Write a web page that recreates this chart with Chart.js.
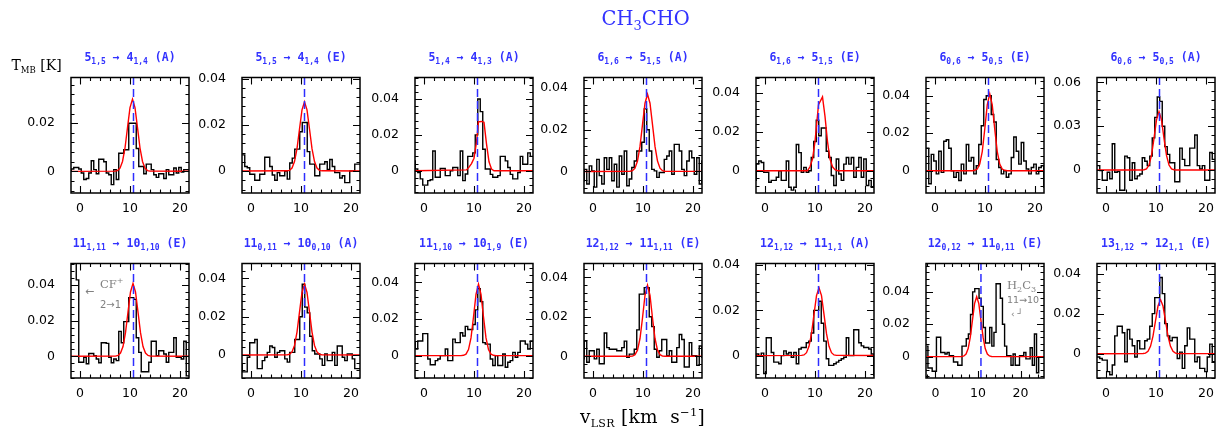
<!DOCTYPE html>
<html>
<head>
<meta charset="utf-8">
<script src="https://cdn.jsdelivr.net/npm/chart.js@4.4.1/dist/chart.umd.min.js"></script>
<style>
html,body{margin:0;padding:0;background:#fff;}
#root{position:relative;width:1228px;height:438px;overflow:hidden;background:#fff;}
canvas{position:absolute;}
.txt{position:absolute;white-space:nowrap;line-height:1;}
.ptitle{font-family:"DejaVu Sans Mono";font-weight:bold;font-size:11.5px;color:rgb(50,50,255);transform:translateX(-50%);}
.sb{font-size:8px;position:relative;top:3.5px;}
.serif{font-family:"DejaVu Serif";}
.grey{color:rgb(128,128,128);}
</style>
</head>
<body>
<div id="root"></div>
<script>
// ---------------- DATA ----------------
const transitions = [
  '5_{1,5} → 4_{1,4} (A)', '5_{1,5} → 4_{1,4} (E)', '5_{1,4} → 4_{1,3} (A)', '6_{1,6} → 5_{1,5} (A)',
  '6_{1,6} → 5_{1,5} (E)', '6_{0,6} → 5_{0,5} (E)', '6_{0,6} → 5_{0,5} (A)',
  '11_{1,11} → 10_{1,10} (E)', '11_{0,11} → 10_{0,10} (A)', '11_{1,10} → 10_{1,9} (E)', '12_{1,12} → 11_{1,11} (E)',
  '12_{1,12} → 11_{1,1} (A)', '12_{0,12} → 11_{0,11} (E)', '13_{1,12} → 12_{1,1} (E)'
];
const VLSR = 10.7;
const velocity = [-2,-1.5,-1,-0.5,0,0.5,1,1.5,2,2.5,3,3.5,4,4.5,5,5.5,6,6.5,7,7.5,8,8.5,9,9.5,10,10.5,11,11.5,12,12.5,13,13.5,14,14.5,15,15.5,16,16.5,17,17.5,18,18.5,19,19.5,20,20.5,21,21.5,22,22.5,23,23.5,24,24.5,25,25.5];
const xMin = [-1.8,-1.8,-1.8,-1.8,-1.8,-1.8,-1.8,-1.8,-1.8,-1.8,-1.8,-1.8,-2.2,-1.8];
const xMax = [21.8,21.8,21.8,21.8,21.8,21.8,21.8,21.8,21.8,21.8,21.8,21.8,25.5,21.8];
const xTickLabels = [0, 10, 20];
const yMin = [-0.009,-0.0095,-0.0124,-0.0103,-0.0115,-0.0119,-0.0157,-0.0122,-0.012,-0.0122,-0.011,-0.0099,-0.0132,-0.0121];
const yMax = [0.039,0.0405,0.052,0.045,0.048,0.0497,0.0633,0.0522,0.0478,0.0503,0.047,0.0407,0.0575,0.045];
const yTickStep = [0.02,0.02,0.02,0.02,0.02,0.02,0.03,0.02,0.02,0.02,0.02,0.02,0.02,0.02];

const spec01 = [0.000,0.001,0.0016,0.0016,0.001,-0.0007,-0.0034,-0.003,-0.0007,0.0044,0.0007,-0.001,0.005,0.005,0.004,-0.0007,-0.0014,-0.0055,0.0007,-0.0034,0.0075,0.0075,0.009,0.009,0.020,0.020,0.020,0.0095,0.002,0.002,-0.001,0.003,0.003,0.0007,-0.0014,-0.0025,-0.001,-0.001,-0.003,0.0007,-0.0014,-0.0014,0.0014,-0.0007,0.0016,-0.0003,0.0007,0.0007,0.0007];
const spec02 = [0.007,0.007,0.002,0.0014,-0.0014,-0.0014,-0.004,-0.004,-0.0014,-0.0014,0.006,0.006,0.002,-0.0017,-0.004,-0.0007,-0.002,-0.002,0,-0.0035,0.0035,0.0056,0.0095,0.0095,0.017,0.021,0.021,0.0084,0.003,0.003,-0.002,-0.002,0.003,0.003,0.004,0.0007,0.005,0.002,-0.0007,-0.0007,-0.003,-0.002,-0.005,-0.005,0,0,0.003,0.003,0.003];
const spec03 = [0.0055,0.001,-0.001,-0.0045,-0.008,-0.008,-0.0055,-0.005,0.011,-0.0036,-0.0036,0.0013,0.0013,-0.0027,-0.0027,0,0.0018,0.0018,-0.0027,0.011,-0.0055,-0.0018,0.008,0.008,0.010,0.020,0.040,0.033,0.012,0.001,0.001,-0.002,-0.0036,-0.0036,-0.0027,0.008,0.008,0.0055,0.0018,-0.002,-0.0045,-0.0045,-0.001,0.008,0.0036,0.0036,0.010,0.008,0.008];
const spec04 = [-0.0044,0.001,-0.006,0.0027,0.0003,-0.0075,0.0058,-0.002,-0.006,0.0066,0.001,0.0066,-0.0044,0.0035,-0.0075,0.0074,-0.0013,0.0098,-0.0068,-0.0036,0.0019,0.005,0.0098,0.0098,0.014,0.030,0.020,0.0098,0.001,0.0003,-0.0028,-0.0005,-0.0005,0.0058,0.0074,0.0098,-0.0013,0.013,0.013,0.0098,0.001,-0.002,0.005,0.0098,0.0066,-0.0013,0.0066,-0.006,0.005];
const spec05 = [-0.005,0.0034,0.005,0.0042,-0.0008,-0.0008,-0.006,-0.005,-0.005,-0.0034,0,-0.005,-0.005,0.005,-0.0085,-0.010,-0.0085,0.0135,0.0093,-0.0008,0.0017,-0.0008,0,0.0068,0.015,0.026,0.018,0.022,0.022,0.010,0.0068,-0.0025,-0.0076,0.006,-0.0017,-0.005,0.0034,0.0068,0.0034,0.0068,-0.0034,0.0017,0.0068,-0.0034,0.006,-0.0076,-0.005,-0.0085,0];
const spec06 = [0.012,0.012,-0.007,0.0087,0.0052,-0.0017,0.0104,-0.0009,0.0157,0.0165,0.012,0,-0.0035,-0.0009,-0.0052,0.0035,-0.0017,0.014,0.0052,0.007,-0.0017,0.0026,0.014,0.024,0.038,0.040,0.040,0.030,0.026,0.006,0.0017,-0.0017,0,-0.0035,-0.0017,0.007,0.018,0.0104,0.0035,0.015,0.0052,0.0009,-0.0017,0.0017,0.0035,-0.0017,0.0017,0.0026,-0.0087];
const spec07 = [0.003,0.003,-0.0004,-0.007,-0.007,-0.0015,-0.006,0.018,-0.0015,-0.001,-0.0138,-0.0138,0.0095,0.0084,-0.007,0.005,-0.006,-0.004,-0.0027,0.0084,0.006,0.003,0.0095,0.022,0.036,0.050,0.047,0.030,0.016,0.0107,0.005,0.005,-0.008,-0.008,0.015,0.0073,0.003,0.003,0.015,0.015,0.024,0.003,0.0007,0.003,-0.007,-0.007,0.012,0.0073,0.0073];
const spec08 = [0.065,0.065,0.065,0.043,-0.0033,-0.0033,-0.0005,-0.0042,0.0016,0.0016,0.0004,-0.0015,-0.0036,0.0076,0.0076,0.0073,-0.0005,-0.0036,-0.0015,-0.0024,0.014,0.0076,0.0195,0.0195,0.033,0.033,0.032,0.0104,0.0022,-0.0087,-0.0087,-0.0087,-0.0033,0.0085,0.0085,0.0004,0.0031,0.0031,0.0013,-0.0033,0.0022,0.0022,0.0104,-0.0005,-0.0005,-0.0015,0.0085,-0.011,-0.011];
const spec09 = [-0.0046,-0.0088,-0.0088,-0.0012,0.0064,0.0064,0.0081,-0.0071,-0.0071,-0.0029,-0.0012,0.0014,0.0047,0.0039,-0.0012,0.0014,0.0022,0.0022,-0.002,-0.0037,0.0014,0.0014,0.0081,0.0081,0.020,0.037,0.025,0.022,0.0098,0.0022,0.0005,0.0005,-0.002,-0.0054,0.0005,-0.0029,-0.0029,0.0014,-0.0054,0.0047,0.0047,-0.0012,-0.0029,0.0005,0.0005,-0.002,-0.0071,-0.0071,-0.0071];
const spec10 = [0.0071,0.0036,0.008,0.008,0.012,0.012,-0.0018,-0.005,-0.005,-0.0027,-0.0018,0,0,0.0036,-0.0027,-0.0027,0.009,0.0071,0.0071,0.0125,0.0107,0.016,0.0143,0.0143,0.017,0.025,0.0366,0.0295,0.0071,0.0063,0.0063,-0.0018,-0.0054,0,-0.0054,-0.0054,0.0009,-0.0063,-0.0036,-0.0027,0.0018,-0.0009,0.0018,0.008,0.008,0.0063,0.0036,0.008,0.008];
const spec11 = [-0.0013,0.0077,-0.003,0.0028,0.0028,-0.0013,0.0036,-0.0038,-0.0038,0.0118,0.0044,0.0036,0.0036,0.0036,0.0028,0.0028,0.0044,0.0077,-0.0005,0.0011,0.0011,0.0036,0.0134,0.0315,0.0315,0.0348,0.0348,0.020,0.015,0.0036,-0.0005,0.0028,0.0085,0.0085,0.0003,0.0028,-0.003,-0.003,0.0044,0.011,0.0085,-0.0054,-0.0054,0.0069,0.0003,0.0003,-0.0046,0.0052,-0.0005];
const spec12 = [0.0007,0.0007,0,0.0011,-0.0079,0.0079,0.0079,0.0014,-0.0029,-0.0029,-0.0036,0,0.0021,0.0007,0.0014,-0.0007,0.0014,-0.0036,0.0029,0.0036,0.0036,0.0057,0.0064,0.010,0.020,0.020,0.024,0.0143,0.0064,-0.0014,-0.0043,-0.0043,-0.0036,-0.0029,-0.0021,-0.0014,-0.0007,0.0079,0,0,0.0114,0.0114,0.0057,0.0043,0.0036,0.0036,0.0029,0.0007,-0.0086];
const spec13 = [0.0065,-0.007,-0.007,-0.009,-0.009,0.012,0.012,0.0025,0.0025,0.0016,0.0025,0.0006,0.0006,-0.0033,-0.0033,-0.0053,-0.0053,0.0065,0.0065,0.011,0.014,0.026,0.040,0.042,0.042,0.036,0.031,0.018,0.0084,0.0084,0.018,0.0065,0.015,0.045,0.045,0.036,0.020,0.0065,0.0006,0.0006,-0.0053,0.0016,-0.0053,-0.0053,0.0006,0.0006,0.0025,-0.0014,-0.0014,0.0055,-0.0053,0.014,-0.010,-0.0004,-0.0004,-0.0004];
const spec14 = [-0.0016,-0.0016,-0.0024,-0.0032,-0.0032,-0.0089,-0.0105,-0.0056,0.0089,0.0137,0.0137,0.0105,-0.004,0.0121,0.0073,0.004,-0.0016,0.0065,0.0024,0.0024,0.0065,0.0073,0.0137,0.020,0.028,0.028,0.038,0.030,0.015,0.0089,0.0065,0.0081,0.0081,-0.0024,0.0008,-0.0073,0.004,0.0129,0.0073,0.0073,-0.004,-0.0016,-0.0073,-0.0073,-0.0089,-0.0016,0.0048,-0.004,-0.004];

const fitV01 = [-2,7.0,7.5,8.0,8.5,9.0,9.5,10.0,10.5,11.0,11.5,12.0,12.5,13.0,13.5,14.0,26];
const fitT01 = [0,0.0001,0.0003,0.0013,0.0041,0.0097,0.0182,0.0265,0.030,0.0265,0.0182,0.0097,0.0041,0.0013,0.0003,0.0001,0];
const fitV02 = [-2,7.2,7.7,8.2,8.7,9.2,9.7,10.2,10.7,11.2,11.7,12.2,12.7,13.2,13.7,14.2,26];
const fitT02 = [0,0.0001,0.0003,0.0013,0.0041,0.0097,0.0182,0.0265,0.030,0.0265,0.0182,0.0097,0.0041,0.0013,0.0003,0.0001,0];
const fitV03 = [-2,8.5,9,9.5,10,10.5,10.9,11.5,12,12.5,13,13.5,14,26];
const fitT03 = [0,0.0005,0.002,0.004,0.007,0.016,0.0273,0.0275,0.027,0.015,0.005,0.001,0,0];
const fitV04 = [-2,7.4,7.9,8.4,8.9,9.4,9.9,10.4,10.9,11.4,11.9,12.4,12.9,13.4,13.9,14.4,26];
const fitT04 = [0,0.0001,0.0004,0.0016,0.005,0.012,0.0224,0.0327,0.037,0.0327,0.0224,0.012,0.005,0.0016,0.0004,0.0001,0];
const fitV05 = [-2,8.5,9,9.5,10,10.7,11.5,12,12.5,13,13.5,14,14.5,26];
const fitT05 = [0,0,0.002,0.006,0.015,0.034,0.038,0.028,0.015,0.006,0.002,0.0005,0,0];
const fitV06 = [-2,7.45,7.95,8.45,8.95,9.45,9.95,10.45,10.95,11.45,11.95,12.45,12.95,13.45,13.95,14.45,26];
const fitT06 = [0,0,0.0002,0.0009,0.0035,0.0102,0.0221,0.0351,0.041,0.0351,0.0221,0.0102,0.0035,0.0009,0.0002,0,0];
const fitV07 = [-2,7.1,7.6,8.1,8.6,9.1,9.6,10.1,10.6,11.1,11.6,12.1,12.6,13.1,13.6,14.1,26];
const fitT07 = [0,0,0.0002,0.0008,0.0034,0.010,0.0216,0.0343,0.040,0.0343,0.0216,0.010,0.0034,0.0008,0.0002,0,0];
const fitV08 = [-2,7.1,7.6,8.1,8.6,9.1,9.6,10.1,10.6,11.1,11.6,12.1,12.6,13.1,13.6,14.1,26];
const fitT08 = [0,0.0001,0.0005,0.0018,0.0055,0.0133,0.0249,0.0362,0.041,0.0362,0.0249,0.0133,0.0055,0.0018,0.0005,0.0001,0];
const fitV09 = [-2,7.2,7.7,8.2,8.7,9.2,9.7,10.2,10.7,11.2,11.7,12.2,12.7,13.2,13.7,14.2,26];
const fitT09 = [0,0.0001,0.0004,0.0016,0.005,0.012,0.0224,0.0327,0.037,0.0327,0.0224,0.012,0.005,0.0016,0.0004,0.0001,0];
const fitV10 = [-2,7.4,7.9,8.4,8.9,9.4,9.9,10.4,10.9,11.4,11.9,12.4,12.9,13.4,13.9,14.4,26];
const fitT10 = [0,0,0.0002,0.0008,0.0033,0.0097,0.0211,0.0334,0.039,0.0334,0.0211,0.0097,0.0033,0.0008,0.0002,0,0];
const fitV11 = [-2,7.4,7.9,8.4,8.9,9.4,9.9,10.4,10.9,11.4,11.9,12.4,12.9,13.4,13.9,14.4,26];
const fitT11 = [0,0,0.0001,0.0008,0.0031,0.009,0.0194,0.0309,0.036,0.0309,0.0194,0.009,0.0031,0.0008,0.0001,0,0];
const fitV12 = [-2,7.3,7.8,8.3,8.8,9.3,9.8,10.3,10.8,11.3,11.8,12.3,12.8,13.3,13.8,14.3,26];
const fitT12 = [0,0.0001,0.0003,0.0013,0.0041,0.0097,0.0182,0.0265,0.030,0.0265,0.0182,0.0097,0.0041,0.0013,0.0003,0.0001,0];
const fitV13 = [-2,6.2,6.7,7.2,7.7,8.2,8.7,9.2,9.7,10.2,10.7,11.2,11.7,12.2,12.7,13.2,26];
const fitT13 = [0,0.0001,0.0004,0.0016,0.005,0.012,0.0224,0.0327,0.037,0.0327,0.0224,0.012,0.005,0.0016,0.0004,0.0001,0];
const fitV14 = [-2,7.4,7.9,8.4,8.9,9.4,9.9,10.4,10.9,11.4,11.9,12.4,12.9,13.4,13.9,14.4,26];
const fitT14 = [0,0.0001,0.0003,0.0012,0.0037,0.0088,0.0164,0.0238,0.027,0.0238,0.0164,0.0088,0.0037,0.0012,0.0003,0.0001,0];

// ---------------- LAYOUT ----------------
const spectra = [spec01,spec02,spec03,spec04,spec05,spec06,spec07,spec08,spec09,spec10,spec11,spec12,spec13,spec14];
const fitVs = [fitV01,fitV02,fitV03,fitV04,fitV05,fitV06,fitV07,fitV08,fitV09,fitV10,fitV11,fitV12,fitV13,fitV14];
const fitTs = [fitT01,fitT02,fitT03,fitT04,fitT05,fitT06,fitT07,fitT08,fitT09,fitT10,fitT11,fitT12,fitT13,fitT14];

const COL_LEFT = [71, 242, 415, 584, 756, 926, 1097];
const ROW_TOP = [74, 260];
const BOX_W = 118;
const BOX_H = [119, 118];
const TITLE_BASE = [61.5, 247.5];
const PAD_L = 55, PAD_T = 12, PAD_R = 12, PAD_B = 26;

const root = document.getElementById('root');

function addText(html, cls, left, top, style) {
  const d = document.createElement('div');
  d.className = 'txt ' + cls;
  d.style.left = left + 'px';
  d.style.top = top + 'px';
  if (style) Object.assign(d.style, style);
  d.innerHTML = html;
  root.appendChild(d);
  return d;
}

const frameTicks = {
  id: 'frameTicks',
  afterDatasetsDraw(chart) {
    const o = chart.options.plugins.frameTicks;
    const {ctx, chartArea: a} = chart;
    const xs = chart.scales.x, ys = chart.scales.y;
    ctx.save();
    ctx.strokeStyle = '#000';
    ctx.lineWidth = 1.1;
    ctx.beginPath();
    const xMinor = o.xMajor / 5;
    for (let k = Math.ceil(xs.min / xMinor); k * xMinor <= xs.max; k++) {
      const v = k * xMinor;
      const px = Math.round(xs.getPixelForValue(v)) + 0.5;
      const len = (k % 5 === 0) ? 7 : 3.5;
      ctx.moveTo(px, a.bottom); ctx.lineTo(px, a.bottom - len);
      ctx.moveTo(px, a.top); ctx.lineTo(px, a.top + len);
    }
    const yMinor = o.yMajor / 5;
    for (let k = Math.ceil(ys.min / yMinor - 1e-9); k * yMinor <= ys.max + 1e-12; k++) {
      const v = k * yMinor;
      const py = Math.round(ys.getPixelForValue(v)) + 0.5;
      const len = (k % 5 === 0) ? 7 : 3.5;
      ctx.moveTo(a.left, py); ctx.lineTo(a.left + len, py);
      ctx.moveTo(a.right, py); ctx.lineTo(a.right - len, py);
    }
    ctx.stroke();
    ctx.lineWidth = 1.5;
    ctx.strokeRect(a.left, a.top, a.right - a.left, a.bottom - a.top);
    ctx.restore();
  }
};

for (let p = 0; p < 14; p++) {
  const r = Math.floor(p / 7), c = p % 7;
  const boxL = COL_LEFT[c], boxT = ROW_TOP[r], boxH = BOX_H[r];
  const cv = document.createElement('canvas');
  const W = BOX_W + PAD_L + PAD_R, H = boxH + PAD_T + PAD_B;
  cv.width = W; cv.height = H;
  cv.style.left = (boxL - PAD_L) + 'px';
  cv.style.top = (boxT - PAD_T) + 'px';
  cv.style.width = W + 'px'; cv.style.height = H + 'px';
  root.appendChild(cv);

  const spec = spectra[p];
  const obs = spec.map((t, i) => ({x: velocity[i], y: t}));
  const fit = fitVs[p].map((v, i) => ({x: v, y: fitTs[p][i]}));
  const step = yTickStep[p];
  const yMajors = [];
  for (let k = Math.ceil(yMin[p] / step); k * step <= yMax[p] + 1e-12; k++) yMajors.push(Number((k * step).toFixed(4)));

  new Chart(cv, {
    type: 'line',
    data: {
      datasets: [
        {data: [{x: VLSR, y: yMin[p]}, {x: VLSR, y: yMax[p]}], borderColor: 'rgb(45,45,255)', borderWidth: 1.5, borderDash: [8, 4], pointRadius: 0, order: 0},
        {data: fit, borderColor: '#ff0000', borderWidth: 1.4, pointRadius: 0, tension: 0, order: 1},
        {data: obs, stepped: 'middle', borderColor: '#000', borderWidth: 1.4, pointRadius: 0, order: 2}
      ]
    },
    options: {
      responsive: false,
      animation: false,
      events: [],
      devicePixelRatio: 1,
      layout: {padding: {left: 0, top: PAD_T, right: PAD_R, bottom: 0}},
      plugins: {legend: {display: false}, tooltip: {enabled: false}, frameTicks: {xMajor: 10, yMajor: step}},
      scales: {
        x: {
          type: 'linear', min: xMin[p], max: xMax[p],
          grid: {display: false}, border: {display: false},
          afterBuildTicks: (s) => { s.ticks = xTickLabels.map(v => ({value: v})); },
          afterFit: (s) => { s.height = PAD_B; },
          ticks: {autoSkip: false, maxRotation: 0, minRotation: 0, padding: 0, color: '#000',
                  font: {family: 'DejaVu Sans', size: 12.5}, callback: (v) => String(v)}
        },
        y: {
          type: 'linear', min: yMin[p], max: yMax[p],
          grid: {display: false}, border: {display: false},
          afterBuildTicks: (s) => { s.ticks = yMajors.map(v => ({value: v})); },
          afterFit: (s) => { s.width = PAD_L; },
          ticks: {autoSkip: false, padding: 8, color: '#000',
                  font: {family: 'DejaVu Sans', size: 12.5}, callback: (v) => v === 0 ? '0' : v.toFixed(2)}
        }
      }
    },
    plugins: [frameTicks]
  });

  const title = transitions[p].replace(/_\{([^}]*)\}/g, '<span class="sb">$1</span>');
  addText(title, 'ptitle', boxL + BOX_W / 2, TITLE_BASE[r] - 9.7);
}

// figure texts
addText('CH<span style="font-size:13px;position:relative;top:5px;">3</span>CHO', 'serif', 601.5, 8.5, {fontSize: '19.5px', color: 'rgb(50,50,255)'});
addText('T<span style="font-size:8.5px;position:relative;top:3px;">MB</span> [K]', 'serif', 11.5, 58.2, {fontSize: '14px', color: '#000'});
addText('v<span style="font-size:11px;position:relative;top:4px;">LSR</span> [km&nbsp;&nbsp;s<span style="font-size:11.5px;position:relative;top:-7px;">−1</span>]', 'serif', 580, 408, {fontSize: '18.5px', color: '#000', letterSpacing: '0.3px'});

// line annotations
addText('←', 'grey', 85, 286, {fontFamily: 'DejaVu Sans', fontSize: '11px'});
addText('CF<span style="font-size:8px;position:relative;top:-5px;">+</span>', 'serif grey', 100, 278.5, {fontSize: '11.5px'});
addText('2→1', 'grey', 100, 299.5, {fontFamily: 'DejaVu Sans', fontSize: '10px'});
addText('H<span style="font-size:8px;position:relative;top:3px;">2</span>C<span style="font-size:8px;position:relative;top:3px;">3</span>', 'serif grey', 1007, 279.5, {fontSize: '11.5px'});
addText('11→10', 'grey', 1007, 295, {fontFamily: 'DejaVu Sans', fontSize: '9.5px'});
addText('‹ ┘', 'grey', 1011, 309.5, {fontFamily: 'DejaVu Sans', fontSize: '9px'});
</script>
</body>
</html>
